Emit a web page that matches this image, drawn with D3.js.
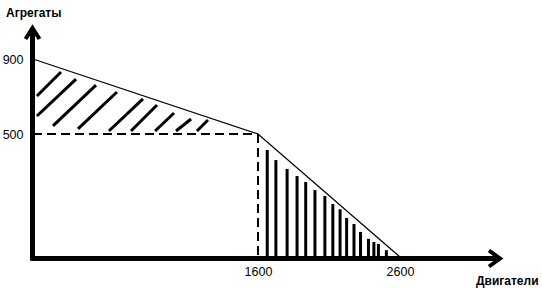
<!DOCTYPE html>
<html>
<head>
<meta charset="utf-8">
<script src="https://cdn.jsdelivr.net/npm/d3@7"></script>
<style>
  body { margin: 0; background: #fff; }
  svg { display: block; }
</style>
</head>
<body>
<script>
// values
const xTicks = [1600, 2600];          // Двигатели
const yTicks = [500, 900];            // Агрегаты
const boundary = [[0, 900], [1600, 500], [2600, 0]];
const corner = [1600, 500];

// hand drawn hatch in the upper area: [x0, y0, x1, y1] in data units
const hatchUpper = [
  [28, 703, 199, 831],
  [28, 596, 306, 793],
  [142, 543, 448, 761],
  [320, 527, 597, 724],
  [540, 516, 782, 687],
  [697, 516, 882, 655],
  [868, 516, 1003, 612],
  [1017, 516, 1124, 580],
  [1166, 516, 1244, 575]
];

// vertical strokes in the lower area
const barX = [1665, 1726, 1805, 1875, 1936, 2001, 2071, 2127, 2178, 2224, 2276, 2322, 2378, 2416, 2448, 2504];
const barTop = [435, 394, 358, 329, 305, 272, 248, 215, 194, 159, 134, 102, 74, 61, 53, 28];

var width = 542, height = 288;
var svg = d3.select("body").append("svg")
    .attr("width", width)
    .attr("height", height);

var x = d3.scaleLinear().domain([0, 1600, 2600]).range([33, 258, 400]);
var y = d3.scaleLinear().domain([0, 500, 900]).range([257, 134, 59]);

var x0 = x(0) - 0.5, y0 = y(0) + 1.5;
var xEnd = 500, yEnd = 27;

// boundary line
svg.append("path")
    .datum(boundary)
    .attr("fill", "none")
    .attr("stroke", "#000")
    .attr("stroke-width", 1.3)
    .attr("d", d3.line().x(d => x(d[0])).y(d => y(d[1])));

// dashed guides
var dash = svg.append("g")
    .attr("stroke", "#000")
    .attr("stroke-width", 2)
    .attr("stroke-dasharray", "9,5");
dash.append("line")
    .attr("x1", x(0)).attr("y1", y(corner[1]))
    .attr("x2", x(corner[0])).attr("y2", y(corner[1]));
dash.append("line")
    .attr("x1", x(corner[0])).attr("y1", y(corner[1]))
    .attr("x2", x(corner[0])).attr("y2", y(0));

// hatch
svg.append("g")
    .attr("stroke", "#000")
    .attr("stroke-width", 3)
    .selectAll("line")
    .data(hatchUpper)
    .join("line")
    .attr("x1", d => x(d[0])).attr("y1", d => y(d[1]))
    .attr("x2", d => x(d[2])).attr("y2", d => y(d[3]));

svg.append("g")
    .selectAll("rect")
    .data(barX)
    .join("rect")
    .attr("fill", "#000")
    .attr("x", d => x(d) - 1.5)
    .attr("width", 3)
    .attr("y", (d, i) => y(barTop[i]))
    .attr("height", (d, i) => y(0) - y(barTop[i]));

// axes
var ax = svg.append("g")
    .attr("stroke", "#000")
    .attr("stroke-width", 5)
    .attr("fill", "none");
ax.append("line").attr("x1", x0).attr("y1", y0 + 2).attr("x2", x0).attr("y2", yEnd + 1);
ax.append("line").attr("x1", x0 - 2).attr("y1", y0).attr("x2", xEnd - 1).attr("y2", y0);
ax.append("polyline").attr("stroke-width", 4)
    .attr("points", [[x0 - 7, yEnd + 12], [x0, yEnd + 1], [x0 + 7, yEnd + 12]].join(" "));
ax.append("polyline").attr("stroke-width", 4)
    .attr("points", [[xEnd - 11, y0 - 8], [xEnd, y0], [xEnd - 11, y0 + 8]].join(" "));

// tick labels
var yAxis = svg.append("g")
    .attr("transform", `translate(${x0},0)`)
    .call(d3.axisLeft(y).tickValues(yTicks).tickSize(0).tickPadding(9).tickFormat(d3.format("d")));
var xAxis = svg.append("g")
    .attr("transform", `translate(0,${y0})`)
    .call(d3.axisBottom(x).tickValues(xTicks).tickSize(0).tickPadding(9).tickFormat(d3.format("d")));
svg.selectAll(".domain").remove();
svg.selectAll(".tick text")
    .attr("fill", "#000")
    .style("font", "12.5px 'Liberation Sans', Arial, sans-serif");

// axis titles
svg.append("text")
    .attr("x", 6).attr("y", 17)
    .style("font", "bold 12px 'Liberation Sans', Arial, sans-serif")
    .text("Агрегаты");
svg.append("text")
    .attr("x", 476).attr("y", 285)
    .style("font", "bold 12px 'Liberation Sans', Arial, sans-serif")
    .text("Двигатели");
</script>
</body>
</html>
